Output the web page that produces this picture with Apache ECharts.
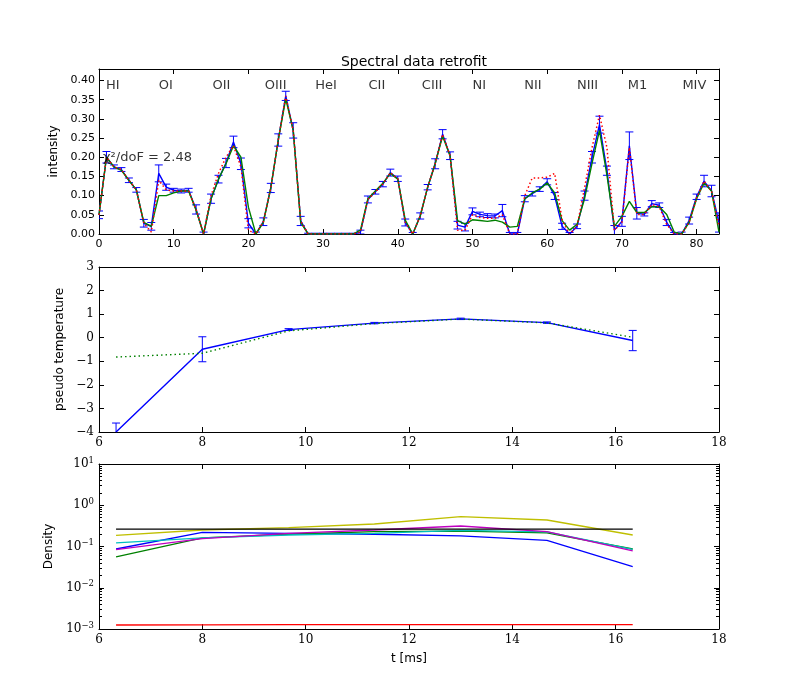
<!DOCTYPE html>
<html><head><meta charset="utf-8">
<script src="https://cdn.jsdelivr.net/npm/echarts@6/dist/echarts.min.js"></script>
<style>html,body{margin:0;padding:0;background:#fff}#c{width:800px;height:700px}</style>
</head><body><div id="c"></div><script>
// ---------- DATA ----------
const channel = [0,1,2,3,4,5,6,7,8,9,10,11,12,13,14,15,16,17,18,19,20,21,22,23,24,25,26,27,28,29,30,31,32,33,34,35,36,37,38,39,40,41,42,43,44,45,46,47,48,49,50,51,52,53,54,55,56,57,58,59,60,61,62,63,64,65,66,67,68,69,70,71,72,73,74,75,76,77,78,79,80,81,82,83];
const measured = [0.05,0.2,0.175,0.168,0.14,0.115,0.028,0.02,0.158,0.122,
 0.114,0.112,0.114,0.064,0.0,0.092,0.143,0.185,0.24,0.183,
 0.028,0.0,0.032,0.12,0.245,0.36,0.27,0.034,0.0,0.0,
 0.0,0.0,0.0,0.0,0.0,0.005,0.09,0.11,0.13,0.16,
 0.144,0.03,0.0,0.047,0.122,0.183,0.26,0.204,0.023,0.018,
 0.059,0.051,0.048,0.047,0.061,0.0,0.0,0.092,0.105,0.117,
 0.136,0.099,0.02,0.0,0.02,0.1,0.2,0.285,0.165,0.01,
 0.033,0.23,0.054,0.051,0.079,0.075,0.03,0.0,0.0,0.035,
 0.097,0.138,0.112,0.03];
const measuredErr = [0.01,0.015,0.005,0.005,0.006,0.006,0.01,0.01,0.022,0.008,
 0.005,0.005,0.005,0.012,0.005,0.012,0.01,0.012,0.015,0.015,
 0.012,0.005,0.01,0.012,0.016,0.012,0.02,0.012,0.002,0.002,
 0.002,0.002,0.002,0.002,0.002,0.005,0.009,0.006,0.007,0.009,
 0.007,0.009,0.004,0.008,0.007,0.013,0.012,0.01,0.01,0.01,
 0.009,0.006,0.005,0.005,0.016,0.004,0.004,0.008,0.006,0.006,
 0.008,0.009,0.008,0.004,0.006,0.012,0.015,0.022,0.012,0.012,
 0.013,0.036,0.015,0.004,0.008,0.006,0.008,0.004,0.005,0.009,
 0.007,0.015,0.015,0.025];
const fitted = [0.05,0.2,0.175,0.166,0.14,0.115,0.03,0.02,0.1,0.1,
 0.107,0.112,0.112,0.062,0.0,0.092,0.143,0.183,0.23,0.2,
 0.07,0.0,0.03,0.12,0.245,0.352,0.27,0.03,0.0,0.0,
 0.0,0.0,0.0,0.0,0.0,0.01,0.092,0.112,0.132,0.158,
 0.143,0.036,0.0,0.047,0.122,0.183,0.255,0.204,0.035,0.026,
 0.037,0.035,0.033,0.036,0.031,0.018,0.02,0.092,0.107,0.117,
 0.133,0.107,0.035,0.01,0.025,0.092,0.184,0.27,0.153,0.02,
 0.046,0.085,0.056,0.056,0.071,0.071,0.051,0.005,0.0,0.03,
 0.092,0.133,0.112,0.005];
const model = [0.05,0.2,0.175,0.168,0.14,0.115,0.028,0.005,0.14,0.115,
 0.112,0.112,0.112,0.064,0.0,0.1,0.158,0.2,0.23,0.175,
 0.01,0.0,0.032,0.12,0.245,0.36,0.27,0.034,0.0,0.0,
 0.0,0.0,0.0,0.0,0.0,0.005,0.09,0.11,0.13,0.16,
 0.144,0.03,0.0,0.047,0.122,0.183,0.26,0.204,0.01,0.01,
 0.05,0.043,0.041,0.041,0.05,0.0,0.0,0.1,0.146,0.146,
 0.148,0.158,0.036,0.0,0.02,0.12,0.225,0.31,0.225,0.01,
 0.03,0.225,0.051,0.051,0.077,0.071,0.025,0.0,0.0,0.03,
 0.094,0.138,0.112,0.02];
const lineNames = ['HI','OI','OII','OIII','HeI','CII','CIII','NI','NII','NIII','M1','MIV'];
const lineLabelX = [1.85,8.95,16.4,23.65,30.4,37.2,44.6,50.9,58.1,65.4,72.1,79.7];
const lineLabelY = 0.386;
const chiText = 'χ²/doF = 2.48';
const chiPos = [0.55, 0.198];

const times = [6.33, 8.0, 9.67, 11.33, 13.0, 14.67, 16.33];
const tempMeas = [-4.0, -0.49, 0.345, 0.62, 0.8, 0.64, -0.12];
const tempErr = [0.38, 0.53, 0.04, 0.03, 0.03, 0.03, 0.43];
const tempFit = [-0.82, -0.66, 0.29, 0.6, 0.79, 0.63, 0.02];

const densBlue    = [0.087,0.221,0.209,0.198,0.18,0.141,0.0324];
const densGreen   = [0.056,0.161,0.198,0.229,0.235,0.215,0.087];
const densRed     = [0.00125,0.00126,0.00127,0.00127,0.00128,0.00128,0.00127];
const densCyan    = [0.122,0.161,0.19,0.209,0.245,0.225,0.085];
const densMagenta = [0.084,0.155,0.209,0.251,0.314,0.229,0.078];
const densYellow  = [0.187,0.251,0.286,0.351,0.528,0.439,0.19];
const densBlack   = [0.265,0.265,0.265,0.265,0.265,0.265,0.265];

const xTicksTop = [0,10,20,30,40,50,60,70,80];
const yTicksTop = [0,0.05,0.1,0.15,0.2,0.25,0.3,0.35,0.4];

// ---------- BUILD ----------
const SANS = 'DejaVu Sans';
const SERIF = 'DejaVu Serif';
const chart = echarts.init(document.getElementById('c'), null, {renderer:'canvas'});
const zip = (xs, ys) => xs.map((x,i)=>[x, ys[i]]);
const errData = (xs, ys, es) => xs.map((x,i)=>[x, ys[i]-es[i], ys[i]+es[i]]);

function errRender(color, cap){
  return function(params, api){
    const x = api.value(0), lo = api.value(1), hi = api.value(2);
    const a = api.coord([x, lo]), b = api.coord([x, hi]);
    const st = {stroke: color, lineWidth: 1};
    return {type:'group', children:[
      {type:'line', shape:{x1:a[0],y1:a[1],x2:b[0],y2:b[1]}, style:st},
      {type:'line', shape:{x1:a[0]-cap,y1:a[1],x2:a[0]+cap,y2:a[1]}, style:st},
      {type:'line', shape:{x1:b[0]-cap,y1:b[1],x2:b[0]+cap,y2:b[1]}, style:st}
    ]};
  };
}

const axLine = {show:true, onZero:false, lineStyle:{color:'#000', width:1}};
const tick = (len, extra) => Object.assign({show:true, inside:true, length:len, lineStyle:{color:'#000', width:1}}, extra||{});
const serifLabel = {color:'#000', fontFamily:SERIF, fontSize:12};

const minorLog = [];
for (let k=-3;k<1;k++) for (let m=2;m<10;m++) minorLog.push(Math.log10(m)+k);

const grids = [
  {left:99, top:69, width:620, height:165},
  {left:99, top:267, width:620, height:165},
  {left:99, top:464, width:620, height:165}
];

const xAxes = [
  {gridIndex:0, type:'value', min:0, max:83, position:'bottom', axisLine:axLine,
   axisTick:tick(5,{customValues:xTicksTop}), splitLine:{show:false},
   axisLabel:{customValues:xTicksTop, color:'#000', fontFamily:SANS, fontSize:11, margin:5}},
  {gridIndex:0, type:'value', min:0, max:83, position:'top', axisLine:axLine,
   axisTick:tick(5,{customValues:xTicksTop}), splitLine:{show:false}, axisLabel:{show:false}},
  {gridIndex:1, type:'value', min:6, max:18, interval:2, position:'bottom', axisLine:axLine,
   axisTick:tick(5), splitLine:{show:false}, axisLabel:Object.assign({margin:5}, serifLabel)},
  {gridIndex:1, type:'value', min:6, max:18, interval:2, position:'top', axisLine:axLine,
   axisTick:tick(5), splitLine:{show:false}, axisLabel:{show:false}},
  {gridIndex:2, type:'value', min:6, max:18, interval:2, position:'bottom', axisLine:axLine,
   axisTick:tick(5), splitLine:{show:false}, axisLabel:Object.assign({margin:5}, serifLabel),
   name:'t [ms]', nameLocation:'middle', nameGap:24, nameTextStyle:{color:'#000', fontFamily:SANS, fontSize:12}},
  {gridIndex:2, type:'value', min:6, max:18, interval:2, position:'top', axisLine:axLine,
   axisTick:tick(5), splitLine:{show:false}, axisLabel:{show:false}}
];

const minus = v => v < 0 ? '\u2212' + Math.abs(v) : String(v);
const yAxes = [
  {gridIndex:0, type:'value', min:0, max:0.43, position:'left', axisLine:axLine,
   axisTick:tick(5,{customValues:yTicksTop}), splitLine:{show:false},
   axisLabel:{customValues:yTicksTop, color:'#000', fontFamily:SANS, fontSize:11, margin:4, formatter:v=>v.toFixed(2)},
   name:'intensity', nameLocation:'middle', nameGap:36, nameRotate:90, nameTextStyle:{color:'#000', fontFamily:SANS, fontSize:12}},
  {gridIndex:0, type:'value', min:0, max:0.43, position:'right', axisLine:axLine,
   axisTick:tick(5,{customValues:yTicksTop}), splitLine:{show:false}, axisLabel:{show:false}},
  {gridIndex:1, type:'value', min:-4, max:3, interval:1, position:'left', axisLine:axLine,
   axisTick:tick(5), splitLine:{show:false},
   axisLabel:Object.assign({margin:5, formatter:minus}, serifLabel),
   name:'pseudo temperature', nameLocation:'middle', nameGap:27, nameRotate:90, nameTextStyle:{color:'#000', fontFamily:SANS, fontSize:12}},
  {gridIndex:1, type:'value', min:-4, max:3, interval:1, position:'right', axisLine:axLine,
   axisTick:tick(5), splitLine:{show:false}, axisLabel:{show:false}},
  {gridIndex:2, type:'log', logBase:10, min:0.001, max:10, position:'left', axisLine:axLine,
   axisTick:tick(5), splitLine:{show:false}, minorTick:{show:false},
   axisLabel:{margin:5, formatter:v=>{const e=Math.round(Math.log10(v)); return '{b|10}{s|'+minus(e)+'}';},
     rich:{b:{fontFamily:SERIF, fontSize:12, color:'#000'}, s:{fontFamily:SERIF, fontSize:8.5, color:'#000', padding:[0,0,7,0]}}},
   name:'Density', nameLocation:'middle', nameGap:31, nameRotate:90, nameTextStyle:{color:'#000', fontFamily:SANS, fontSize:12}},
  {gridIndex:2, type:'log', logBase:10, min:0.001, max:10, position:'right', axisLine:axLine,
   axisTick:tick(5), splitLine:{show:false}, axisLabel:{show:false}},
  {gridIndex:2, type:'value', min:-3, max:1, position:'left', axisLine:{show:false, onZero:false},
   axisTick:tick(3,{customValues:minorLog}), splitLine:{show:false}, axisLabel:{show:false}},
  {gridIndex:2, type:'value', min:-3, max:1, position:'right', axisLine:{show:false, onZero:false},
   axisTick:tick(3,{customValues:minorLog}), splitLine:{show:false}, axisLabel:{show:false}}
];

const lineS = (xi, yi, data, color, width, type, z) => ({
  type:'line', xAxisIndex:xi, yAxisIndex:yi, data, symbol:'none', showSymbol:false,
  lineStyle:{color, width, type: type||'solid'}, itemStyle:{color}, z: z||2, animation:false, silent:true
});

const series = [
  // top panel
  lineS(0,0, zip(channel, measured), '#0000ff', 1.4, 'solid', 2),
  {type:'custom', xAxisIndex:0, yAxisIndex:0, data: errData(channel, measured, measuredErr),
   encode:{x:0, y:[1,2]}, renderItem: errRender('#0000ff', 4), z:3, clip:true, silent:true, animation:false},
  lineS(0,0, zip(channel, fitted), '#008000', 1.4, 'solid', 4),
  lineS(0,0, zip(channel, model), '#ff0000', 1.5, [1.5,2.5], 5),
  {type:'scatter', xAxisIndex:0, yAxisIndex:0, symbolSize:0, silent:true, animation:false, z:6,
   data: lineNames.map((n,i)=>({value:[lineLabelX[i], lineLabelY], name:n})),
   label:{show:true, position:'inside', formatter:p=>p.name, color:'#000', fontFamily:SANS, fontSize:13}},
  {type:'scatter', xAxisIndex:0, yAxisIndex:0, symbolSize:0, silent:true, animation:false, z:6,
   data:[{value:chiPos, name:chiText}],
   label:{show:true, position:'right', distance:0, formatter:p=>p.name, color:'#000', fontFamily:SANS, fontSize:13}},
  // middle panel
  lineS(2,2, zip(times, tempMeas), '#0000ff', 1.4, 'solid', 2),
  {type:'custom', xAxisIndex:2, yAxisIndex:2, data: errData(times, tempMeas, tempErr),
   encode:{x:0, y:[1,2]}, renderItem: errRender('#0000ff', 4), z:3, clip:true, silent:true, animation:false},
  lineS(2,2, zip(times, tempFit), '#008000', 1.4, [1.5,3], 4),
  // bottom panel
  lineS(4,4, zip(times, densBlue), '#0000ff', 1.3),
  lineS(4,4, zip(times, densGreen), '#008000', 1.3),
  lineS(4,4, zip(times, densRed), '#ff0000', 1.3),
  lineS(4,4, zip(times, densCyan), '#00bfbf', 1.3),
  lineS(4,4, zip(times, densMagenta), '#bf00bf', 1.3),
  lineS(4,4, zip(times, densYellow), '#bfbf00', 1.3),
  lineS(4,4, zip(times, densBlack), '#000000', 1.3)
];

chart.setOption({
  animation:false,
  backgroundColor:'#fff',
  title:{text:'Spectral data retrofit', left:409, top:50, textAlign:'center',
    textStyle:{color:'#000', fontFamily:SANS, fontSize:14, fontWeight:'normal'}},
  grid: grids, xAxis: xAxes, yAxis: yAxes, series
});
</script></body></html>
